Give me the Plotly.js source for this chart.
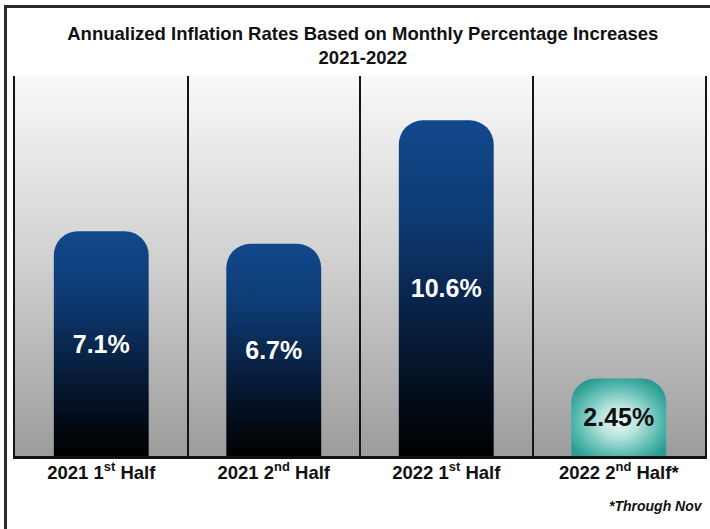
<!DOCTYPE html>
<html>
<head>
<meta charset="utf-8">
<script src="https://cdn.plot.ly/plotly-3.0.1.min.js"></script>
<style>
  html, body { margin: 0; padding: 0; background: #ffffff; }
  #frame { position: absolute; left: 4px; top: 5px; width: 706px; height: 524px;
           border-top: 3px solid #2a2a2a; border-left: 3px solid #2a2a2a; box-sizing: border-box; }
  #chart { position: absolute; left: 0; top: 0; width: 710px; height: 529px; }
</style>
</head>
<body>
<div id="frame"></div>
<div id="chart"></div>
<script>
const categories = ['2021 1<sup>st</sup> Half', '2021 2<sup>nd</sup> Half', '2022 1<sup>st</sup> Half', '2022 2<sup>nd</sup> Half*'];
const rates = [7.1, 6.7, 10.6, 2.45];
const rateLabels = ['7.1%', '6.7%', '10.6%', '2.45%'];
const labelColors = ['#ffffff', '#ffffff', '#ffffff', '#111111'];
const titleText = 'Annualized Inflation Rates Based on Monthly Percentage Increases<br>2021-2022';
const footnote = '*Through Nov';

const FONT = '"Liberation Sans", Arial, sans-serif';

const trace = {
  type: 'bar',
  x: categories,
  y: rates,
  width: 0.55,
  marker: { color: ['#0d3f7a', '#0d3f7a', '#0d3f7a', '#3fb3a8'], cornerradius: 24, line: { width: 0 } },
  text: rateLabels,
  textposition: 'inside',
  insidetextanchor: 'middle',
  textangle: 0,
  textfont: { family: FONT, size: 25, weight: 'bold', color: labelColors },
  constraintext: 'none',
  hoverinfo: 'none'
};

const layout = {
  width: 710, height: 529,
  margin: { l: 15, r: 5, t: 76, b: 73 },
  paper_bgcolor: 'rgba(0,0,0,0)',
  plot_bgcolor: '#c8c8c8',
  showlegend: false,
  title: {
    text: titleText,
    x: 0.511, xref: 'container', xanchor: 'center',
    y: 0.925, yref: 'container', yanchor: 'top',
    font: { family: FONT, size: 18.5, weight: 'bold', color: '#111111' }
  },
  xaxis: {
    type: 'category',
    tickson: 'boundaries',
    showgrid: true, gridcolor: '#141414', gridwidth: 2,
    showline: true, linecolor: '#111111', linewidth: 3,
    ticks: '', ticklen: 0, ticklabelstandoff: -2,
    tickfont: { family: FONT, size: 18.5, weight: 'bold', color: '#111111' },
    fixedrange: true
  },
  yaxis: {
    range: [0, 12],
    showticklabels: false, showgrid: false, zeroline: false,
    showline: true, mirror: true, linecolor: '#141414', linewidth: 2,
    ticks: '', fixedrange: true
  },
  annotations: [{
    text: footnote, xref: 'paper', yref: 'paper', x: 1, y: -0.132,
    xanchor: 'right', yanchor: 'middle', xshift: 0, showarrow: false,
    font: { family: FONT, size: 14, weight: 'bold', style: 'italic', color: '#111111' }
  }]
};

Plotly.newPlot('chart', [trace], layout, { displayModeBar: false, staticPlot: true }).then(function (gd) {
  const NS = 'http://www.w3.org/2000/svg';
  const svg = gd.querySelector('svg.main-svg');
  const defs = document.createElementNS(NS, 'defs');
  function lin(id, stops) {
    const g = document.createElementNS(NS, 'linearGradient');
    g.setAttribute('id', id); g.setAttribute('x1', '0'); g.setAttribute('y1', '0');
    g.setAttribute('x2', '0'); g.setAttribute('y2', '1');
    stops.forEach(function (s) {
      const st = document.createElementNS(NS, 'stop');
      st.setAttribute('offset', s[0]); st.setAttribute('stop-color', s[1]);
      g.appendChild(st);
    });
    defs.appendChild(g);
  }
  lin('bgGrad', [['0', '#f9f9f9'], ['0.5', '#cfcfcf'], ['1', '#9c9c9c']]);
  lin('barGrad', [['0', '#11498c'], ['0.3', '#0d3a72'], ['0.6', '#081f40'], ['0.85', '#030a16'], ['1', '#000000']]);
  const rg = document.createElementNS(NS, 'radialGradient');
  rg.setAttribute('id', 'tealGrad'); rg.setAttribute('cx', '0.5'); rg.setAttribute('cy', '0.55'); rg.setAttribute('r', '0.6');
  [['0', '#eefaf7'], ['0.35', '#b5e3dc'], ['0.75', '#56b9af'], ['1', '#2a9c92']].forEach(function (s) {
    const st = document.createElementNS(NS, 'stop');
    st.setAttribute('offset', s[0]); st.setAttribute('stop-color', s[1]);
    rg.appendChild(st);
  });
  defs.appendChild(rg);
  svg.insertBefore(defs, svg.firstChild);

  const bg = gd.querySelector('.bglayer rect.bg');
  if (bg) bg.style.fill = 'url(#bgGrad)';
  const paths = gd.querySelectorAll('.barlayer .point path');
  paths.forEach(function (p, i) {
    p.style.fill = (i === 3) ? 'url(#tealGrad)' : 'url(#barGrad)';
  });
});
</script>
</body>
</html>
